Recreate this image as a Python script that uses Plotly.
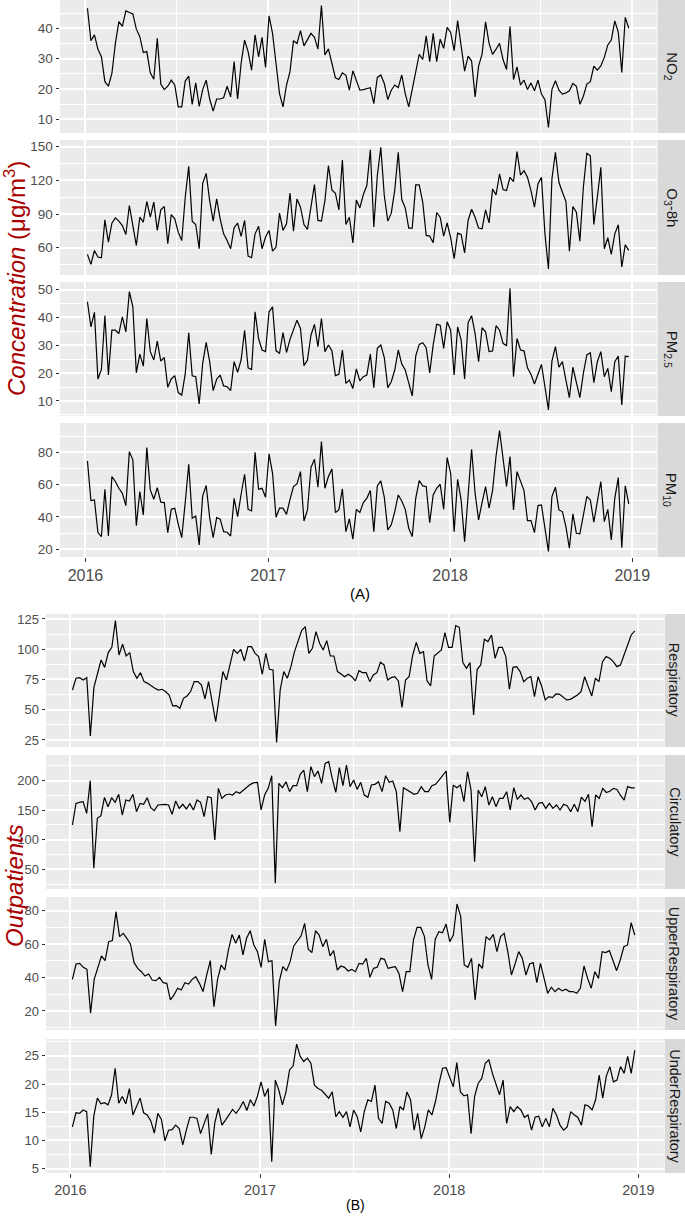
import plotly.graph_objects as go
import pandas as pd
import numpy as np

# weekly series, 2016-2018
no2 = [46.6, 35.9, 37.8, 33.1, 30.6, 22.4, 20.9, 25.1, 35.0, 42.2,
       40.6, 45.7, 45.2, 44.7, 39.7, 37.2, 32.0, 32.3, 25.3, 23.2,
       36.7, 21.6, 19.8, 20.9, 22.9, 21.3, 14.1, 14.1, 22.6, 24.2,
       14.9, 22.0, 14.3, 19.8, 22.9, 16.7, 12.7, 16.7, 16.7, 17.1,
       20.9, 17.4, 29.0, 16.7, 28.4, 36.1, 32.3, 26.2, 37.8, 30.6,
       37.0, 27.1, 44.1, 38.3, 28.4, 18.5, 14.1, 21.3, 25.7, 35.9,
       35.0, 39.2, 34.2, 36.1, 38.3, 37.0, 33.1, 47.5, 31.2, 33.2,
       27.9, 23.7, 23.1, 25.3, 24.5, 19.6, 26.0, 22.4, 19.6, 19.8,
       20.2, 20.4, 15.2, 23.8, 24.6, 21.8, 16.5, 19.6, 21.3, 20.4,
       24.6, 18.5, 14.1, 19.6, 25.1, 31.4, 29.7, 37.5, 29.0, 38.3,
       29.0, 36.4, 33.4, 40.3, 38.6, 32.6, 42.5, 34.2, 25.9, 30.8,
       29.2, 17.4, 27.5, 31.5, 42.1, 35.0, 31.4, 33.1, 35.0, 29.7,
       26.4, 40.6, 23.1, 27.3, 21.3, 22.9, 19.8, 22.0, 19.4, 22.9,
       18.3, 16.5, 7.3, 19.8, 22.7, 19.6, 18.3, 18.7, 19.4, 21.8,
       20.9, 15.0, 17.6, 21.6, 22.4, 27.5, 26.2, 27.6, 30.4, 34.5,
       36.1, 42.4, 38.7, 25.4, 43.6, 40.0]

o3_8h = [54.1, 45.2, 57.6, 51.7, 51.1, 84.9, 65.0, 81.9, 86.6, 83.7,
         79.8, 71.8, 97.6, 81.3, 62.1, 87.2, 82.8, 101.2, 87.2, 100.6,
         75.4, 93.8, 96.7, 63.6, 89.6, 85.8, 73.9, 66.5, 105.0, 132.5,
         83.7, 80.7, 59.1, 117.4, 126.3, 102.0, 83.7, 103.5, 85.8, 72.4,
         66.5, 59.1, 77.8, 81.9, 70.1, 84.3, 52.6, 51.1, 72.4, 79.2,
         59.1, 69.5, 75.4, 57.0, 60.6, 90.8, 75.4, 81.3, 108.6, 74.8,
         103.5, 96.1, 80.7, 76.3, 96.1, 116.3, 84.3, 83.7, 102.0, 133.1,
         111.5, 108.6, 93.8, 138.2, 80.7, 87.2, 64.2, 102.6, 95.5, 107.4,
         115.4, 147.3, 78.4, 124.2, 149.4, 106.5, 83.7, 90.8, 111.5, 145.0,
         102.9, 95.5, 77.5, 77.5, 116.0, 116.0, 100.6, 71.0, 70.4, 64.4,
         91.4, 87.2, 70.4, 82.2, 68.9, 50.2, 73.0, 71.8, 55.3, 84.3,
         94.3, 87.2, 77.5, 76.9, 93.8, 82.2, 112.4, 107.1, 125.7, 111.8,
         110.9, 122.8, 118.9, 145.6, 124.8, 128.7, 122.8, 110.9, 96.1, 116.8,
         122.8, 72.4, 41.0, 121.3, 145.0, 118.3, 109.4, 101.4, 57.0, 96.7,
         91.7, 65.9, 113.9, 144.1, 142.0, 80.7, 105.0, 131.6, 59.1, 68.9,
         54.1, 72.4, 80.4, 42.8, 62.7, 57.6]

pm25 = [45.6, 36.6, 41.8, 17.9, 21.3, 40.7, 19.3, 35.4, 35.4, 34.2,
        40.2, 34.8, 49.2, 43.8, 20.1, 26.8, 22.5, 39.6, 27.7, 24.7,
        31.5, 24.3, 25.6, 14.9, 17.9, 19.1, 13.0, 12.1, 19.7, 34.5,
        19.0, 18.7, 8.9, 23.5, 31.0, 24.1, 13.7, 17.8, 19.3, 15.4,
        15.1, 13.7, 24.1, 20.3, 24.7, 35.4, 21.9, 21.3, 42.0, 32.4,
        28.3, 27.7, 42.0, 43.8, 28.0, 27.1, 34.5, 27.4, 32.1, 35.4,
        39.0, 36.0, 22.7, 24.7, 33.6, 37.5, 29.5, 39.6, 27.7, 30.1,
        28.0, 19.1, 19.6, 28.3, 16.3, 17.5, 14.5, 21.5, 17.2, 18.7,
        19.3, 26.8, 14.8, 28.9, 30.1, 25.6, 14.8, 16.9, 21.1, 28.3,
        23.3, 21.1, 16.3, 11.8, 26.1, 30.3, 30.9, 29.1, 20.1, 30.1,
        37.5, 37.2, 28.9, 38.4, 35.4, 19.3, 36.6, 31.9, 17.9, 38.1,
        40.6, 34.2, 24.1, 36.3, 34.8, 27.7, 27.9, 37.0, 35.4, 30.7,
        29.8, 50.4, 18.7, 32.4, 28.3, 28.0, 21.9, 19.6, 16.1, 19.9,
        23.1, 15.1, 6.8, 24.3, 29.5, 22.1, 24.1, 17.5, 11.2, 22.1,
        16.9, 11.2, 19.9, 26.5, 27.3, 16.6, 24.1, 27.7, 18.7, 21.7,
        13.3, 24.1, 26.1, 8.6, 26.1, 25.9]

pm10 = [74.6, 50.1, 50.5, 30.3, 27.8, 57.1, 28.2, 65.0, 61.9, 57.7,
        54.6, 47.0, 80.4, 75.3, 34.6, 55.7, 41.2, 82.9, 56.7, 50.9,
        58.1, 49.1, 48.9, 30.3, 44.7, 45.4, 35.5, 27.2, 48.9, 72.6,
        39.2, 40.6, 22.7, 53.0, 59.4, 39.6, 27.2, 39.6, 38.6, 30.9,
        30.5, 28.2, 51.5, 40.2, 54.0, 66.4, 44.7, 43.7, 80.0, 57.1,
        57.7, 52.2, 79.0, 67.0, 39.8, 45.4, 45.4, 41.6, 50.9, 58.8,
        60.4, 68.0, 37.5, 44.3, 70.5, 75.7, 58.4, 86.6, 57.7, 65.0,
        69.7, 42.7, 44.3, 57.3, 30.9, 38.8, 26.2, 44.7, 42.7, 48.9,
        51.5, 56.3, 30.9, 59.2, 62.3, 52.2, 32.0, 35.1, 43.3, 53.6,
        49.9, 44.7, 33.0, 27.8, 51.5, 62.5, 59.2, 58.8, 36.5, 53.6,
        57.7, 60.2, 44.7, 76.7, 67.0, 30.9, 63.3, 50.5, 24.7, 52.2,
        81.9, 54.6, 38.1, 48.9, 58.8, 45.4, 56.3, 77.7, 93.4, 76.3,
        58.8, 77.3, 44.3, 68.0, 61.9, 56.3, 37.7, 37.7, 30.3, 47.0,
        47.4, 33.0, 18.6, 52.6, 58.4, 44.3, 43.3, 34.0, 20.6, 41.9,
        29.9, 29.5, 40.2, 52.6, 50.5, 36.7, 49.5, 61.9, 37.1, 44.7,
        25.8, 51.5, 64.3, 21.0, 59.2, 48.0]

respiratory = [66.3, 76.0, 76.5, 74.6, 76.5, 28.3, 68.5, 78.7, 91.1, 85.0,
               97.2, 101.6, 123.6, 95.2, 104.1, 94.4, 97.2, 81.5, 76.0, 80.6,
               73.2, 71.8, 69.6, 67.7, 66.3, 66.9, 65.0, 62.2, 53.1, 53.4,
               51.2, 59.4, 61.4, 65.0, 73.2, 73.2, 70.5, 58.9, 73.2, 56.7,
               40.2, 60.8, 81.5, 74.6, 87.0, 99.9, 96.6, 99.9, 90.3, 102.1,
               102.1, 96.6, 93.9, 79.3, 96.6, 83.4, 82.9, 23.0, 66.3, 81.5,
               76.0, 85.6, 98.0, 106.3, 115.4, 118.7, 96.6, 100.8, 114.5, 104.9,
               99.4, 107.1, 94.4, 94.4, 81.5, 79.5, 77.3, 79.3, 77.3, 73.8,
               82.3, 80.6, 80.6, 73.2, 78.7, 80.6, 89.2, 87.0, 74.6, 76.5,
               77.3, 73.8, 52.0, 74.6, 77.3, 95.2, 105.7, 96.6, 98.0, 74.0,
               69.6, 94.4, 96.6, 99.4, 113.7, 101.6, 101.6, 119.5, 118.1, 88.9,
               84.2, 88.9, 45.7, 83.4, 87.0, 108.2, 106.3, 111.8, 92.5, 101.6,
               101.6, 93.9, 66.9, 85.0, 85.6, 81.5, 73.2, 76.0, 77.3, 60.8,
               77.3, 69.6, 58.1, 60.8, 60.0, 63.0, 62.7, 60.3, 58.1, 58.6,
               60.3, 62.2, 65.0, 77.3, 69.1, 61.4, 76.0, 73.2, 89.7, 93.9,
               92.5, 89.7, 85.6, 87.0, 95.2, 103.5, 111.8, 115.1]

circulatory = [125, 161.6, 163.3, 164.5, 144.7, 200, 51.7, 136.3, 140.8, 171.8,
               156, 171.2, 163.3, 176.9, 141.9, 167.3, 165.6, 176.9, 147.5, 161.6,
               160, 171.2, 154.3, 149.2, 158.8, 160, 160, 158.8, 143, 165.6,
               153.2, 160, 152.1, 161.1, 150.4, 167.3, 163.3, 139.1, 172.9, 171.2,
               99.6, 187, 170.1, 175.7, 177.4, 175.7, 181.4, 178.6, 184.2, 189.8,
               193.8, 196.6, 197.2, 150.4, 175.7, 187, 208.5, 26.3, 195.5, 188.2,
               198.3, 181.4, 191.5, 191.5, 210.7, 218, 181.4, 223.7, 206.8, 216.4,
               195.5, 229.3, 232.1, 203.9, 180.3, 222, 191.5, 226.5, 189.8, 201.1,
               185.3, 197.2, 175.7, 171.8, 192.7, 193.8, 198.3, 181.4, 208.5, 197.2,
               199.4, 181.4, 113.7, 188.2, 184.2, 181.4, 176.9, 178.6, 189.8, 181.4,
               181.4, 191.5, 193.8, 201.1, 208.5, 216.4, 129.5, 192.7, 188.2, 192.7,
               164.5, 215.2, 184.2, 62.9, 184.2, 172.9, 189.8, 158.8, 172.9, 156,
               170.1, 170.1, 181.4, 150.4, 188.2, 168.4, 175.7, 168.4, 171.2, 164.5,
               150.4, 161.6, 163.3, 153.2, 161.6, 153.2, 158.8, 150.4, 160, 157.7,
               147.5, 160, 147.5, 172, 165, 177, 122.2, 175.7, 170, 187,
               180, 182, 187, 185, 175, 167, 190, 188, 188]

upper_resp = [38.9, 48.1, 48.5, 46.1, 44.9, 18.6, 38.9, 45.5, 52.9, 50.1,
              61.5, 62.1, 79.4, 64.5, 66.4, 63.5, 60.0, 48.9, 45.5, 43.5,
              40.9, 42.1, 38.5, 38.1, 40.1, 36.9, 36.5, 26.6, 29.6, 33.6,
              32.6, 36.9, 36.1, 38.9, 40.5, 36.5, 31.6, 41.5, 50.1, 22.6,
              38.9, 47.5, 44.5, 56.5, 65.8, 60.5, 65.4, 53.5, 63.5, 68.0,
              59.5, 55.5, 46.1, 62.9, 49.5, 50.1, 11.0, 37.5, 46.5, 44.1,
              49.5, 58.9, 61.5, 64.8, 72.4, 56.9, 54.9, 68.0, 65.4, 58.5,
              62.9, 52.9, 56.1, 44.5, 46.9, 46.1, 43.9, 44.9, 43.5, 48.5,
              48.1, 51.5, 40.1, 45.5, 46.1, 51.5, 50.9, 45.5, 46.1, 46.5,
              42.5, 31.6, 43.5, 43.5, 62.5, 70.0, 70.0, 64.8, 47.5, 38.9,
              62.9, 67.4, 66.8, 72.0, 61.5, 65.4, 84.0, 76.8, 47.5, 46.1,
              51.5, 26.6, 48.1, 45.5, 64.5, 62.5, 65.8, 55.5, 64.5, 66.4,
              55.5, 41.5, 48.1, 55.5, 51.5, 41.5, 48.1, 48.9, 36.9, 48.5,
              39.5, 30.6, 34.2, 31.6, 33.6, 32.0, 33.0, 31.6, 31.6, 30.6,
              33.6, 46.9, 39.5, 33.6, 43.5, 39.5, 55.5, 54.9, 56.1, 49.5,
              44.1, 50.5, 58.5, 59.5, 72.8, 65.4]

under_resp = [12.4, 14.9, 14.8, 15.4, 15.1, 5.3, 14.3, 17.5, 16.5, 16.7,
              16.3, 18.1, 22.8, 16.6, 17.8, 16.5, 19.2, 14.5, 16.0, 17.5,
              14.9, 14.5, 13.5, 11.3, 14.8, 13.7, 9.9, 11.8, 11.9, 12.7,
              12.1, 9.2, 11.8, 14.1, 14.1, 13.9, 11.2, 13.1, 14.7, 7.5,
              13.1, 15.7, 12.7, 13.6, 14.5, 15.5, 14.8, 15.7, 16.9, 15.3,
              17.2, 16.1, 17.9, 20.4, 17.8, 19.2, 6.2, 20.7, 18.9, 16.3,
              18.6, 22.5, 23.2, 27.1, 24.9, 24.0, 24.6, 23.7, 19.8, 19.2,
              18.9, 18.1, 17.5, 18.6, 14.2, 15.1, 14.1, 15.1, 12.4, 15.4,
              14.2, 11.5, 15.1, 17.2, 16.9, 19.8, 13.9, 13.0, 16.9, 16.6,
              15.4, 12.1, 16.0, 15.4, 18.6, 17.2, 11.8, 14.8, 10.3, 12.4,
              15.4, 14.5, 16.9, 20.1, 22.8, 22.9, 21.3, 19.5, 23.8, 18.6,
              17.9, 18.1, 11.2, 17.8, 20.1, 21.0, 23.7, 24.3, 21.9, 20.1,
              18.1, 20.7, 13.0, 16.0, 15.1, 16.0, 15.4, 14.1, 14.5, 11.8,
              14.1, 14.3, 12.4, 13.9, 12.4, 15.7, 14.5, 12.7, 11.8, 12.4,
              15.1, 14.5, 14.1, 12.7, 16.3, 16.1, 15.4, 17.2, 21.6, 17.5,
              21.4, 23.1, 20.4, 20.7, 23.1, 21.9, 24.9, 21.9, 26.0]

START, END = "2016-01-05", "2018-12-25"


def week_dates(n):
    t = np.linspace(pd.Timestamp(START).value, pd.Timestamp(END).value, n)
    return pd.to_datetime(t)


W, H = 685, 1216
BG, STRIP = "#EBEBEB", "#D9D9D9"
RED = "#A80000"
TXT = "#4D4D4D"
FONT = "Liberation Sans, Arial"

# label, values, y range, major step, panel top/bottom (px), group
facets = [
    ("NO<sub>2</sub>", no2, [5.5, 49.3], 10, 0, 133, "A"),
    ("O<sub>3</sub>-8h", o3_8h, [35.7, 156.0], 30, 140, 275, "A"),
    ("PM<sub>2.5</sub>", pm25, [4.6, 52.7], 10, 282, 416, "A"),
    ("PM<sub>10</sub>", pm10, [15.2, 98.1], 20, 423, 557, "A"),
    ("Respiratory", respiratory, [19.2, 129.1], 25, 614, 747, "B"),
    ("Circulatory", circulatory, [16.6, 243.5], 50, 755, 889, "B"),
    ("UpperRespiratory", upper_resp, [8.6, 88.2], 20, 897, 1030, "B"),
    ("UnderRespiratory", under_resp, [4.2, 28.0], 5, 1039, 1173, "B"),
]
panel_x = {"A": (60, 656.7), "B": (46, 663.8)}
strip_x = {"A": (657.5, 685), "B": (664.6, 685)}
x_range = {"A": ["2015-11-11", "2019-02-19"], "B": ["2015-11-15", "2019-02-19"]}
tick_font = {"A": 13.5, "B": 13}
strip_font = {"A": 15, "B": 14.5}
years = ["2016-01-01", "2017-01-01", "2018-01-01", "2019-01-01"]
mid_years = ["2016-07-01", "2017-07-01", "2018-07-01"]


def note(text, x, y, size, color, angle=0):
    return dict(text=text, xref="paper", yref="paper", x=x / W, y=1 - y / H,
                xanchor="center", yanchor="middle", textangle=angle,
                showarrow=False, font=dict(size=size, color=color, family=FONT))


fig = go.Figure()
layout = {}
shapes, notes = [], []
for i, (label, vals, yr, step, top, bot, grp) in enumerate(facets, start=1):
    sfx = "" if i == 1 else str(i)
    fig.add_trace(go.Scatter(x=week_dates(len(vals)), y=vals, mode="lines",
                             line=dict(color="black", width=1.2),
                             xaxis="x" + sfx, yaxis="y" + sfx,
                             showlegend=False, hoverinfo="skip"))
    x0, x1 = panel_x[grp]
    bottom_row = i in (4, 8)
    layout["xaxis" + sfx] = dict(
        domain=[x0 / W, x1 / W], anchor="y" + sfx, type="date",
        range=x_range[grp], tickmode="array", tickvals=years,
        ticktext=["2016", "2017", "2018", "2019"], automargin=False,
        showticklabels=bottom_row, ticks="outside" if bottom_row else "",
        ticklen=3.5, tickcolor="#333333", tickwidth=1,
        tickfont=dict(size=16 if grp == "A" else 14.5, color=TXT, family=FONT),
        showgrid=True, gridcolor="white", gridwidth=1.5, zeroline=False,
        showline=False,
        minor=dict(tickmode="array", tickvals=mid_years, showgrid=True,
                   gridcolor="white", gridwidth=1.2, ticks=""),
    )
    layout["yaxis" + sfx] = dict(
        domain=[1 - bot / H, 1 - top / H], anchor="x" + sfx, range=yr,
        tick0=0, dtick=step, ticks="outside", ticklen=3.5, automargin=False,
        tickcolor="#333333", tickwidth=1,
        tickfont=dict(size=tick_font[grp], color=TXT, family=FONT),
        showgrid=True, gridcolor="white", gridwidth=1.5, zeroline=False,
        showline=False,
        minor=dict(tick0=0, dtick=step / 2, showgrid=True,
                   gridcolor="white", gridwidth=1.2, ticks=""),
    )
    sx0, sx1 = strip_x[grp]
    shapes.append(dict(type="rect", xref="paper", yref="paper",
                       x0=sx0 / W, x1=sx1 / W, y0=1 - bot / H, y1=1 - top / H,
                       fillcolor=STRIP, line=dict(width=0), layer="above"))
    notes.append(note(label, (sx0 + sx1) / 2, (top + bot) / 2,
                      strip_font[grp], "#1A1A1A", angle=90))

notes += [
    note("<i>Concentration</i> (μg/m<sup>3</sup>)", 15, 279, 24, RED, -90),
    note("<i>Outpatients</i>", 15, 886, 24, RED, -90),
    note("(A)", 360, 593, 15, "black"),
    note("(B)", 355, 1205, 14, "black"),
]

fig.update_layout(width=W, height=H, margin=dict(l=0, r=0, t=0, b=0),
                  paper_bgcolor="white", plot_bgcolor=BG,
                  shapes=shapes, annotations=notes, **layout)
# the page's default body margin would push the 685x1216 figure off-screen
fig.write_html("out.html", config={"displayModeBar": False},
               post_script="document.body.style.margin='0';"
                           "document.body.style.overflow='hidden';")
